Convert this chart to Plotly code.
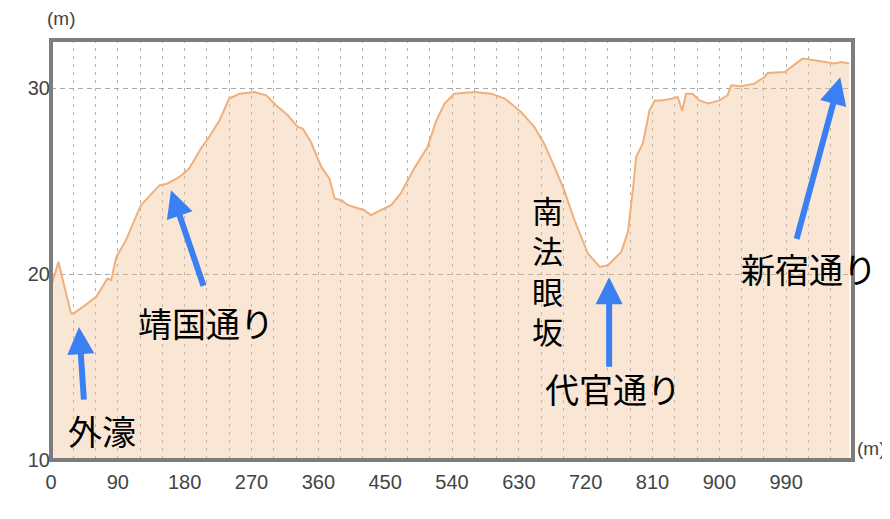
import plotly.graph_objects as go

# distance along route (m) and elevation (m)
dist = [0, 10, 27, 31, 43, 61, 76, 81, 88, 101, 121, 146, 157, 173, 186, 202, 213, 227, 240, 254,
        274, 290, 303, 319, 332, 339, 350, 364, 375, 382, 391, 400, 422, 431, 444, 458, 471, 489,
        507, 519, 530, 543, 570, 593, 611, 633, 651, 664, 678, 691, 705, 723, 739, 750, 768, 777,
        784, 788, 797, 806, 813, 822, 837, 844, 850, 855, 864, 873, 885, 900, 911, 916, 929, 947,
        961, 965, 988, 994, 1001, 1012, 1024, 1042, 1055, 1064, 1075]
elev = [19.3, 20.66, 17.89, 17.9, 18.24, 18.78, 19.77, 19.68, 20.93, 21.83, 23.71, 24.78, 24.88,
        25.23, 25.68, 26.76, 27.38, 28.28, 29.45, 29.71, 29.80, 29.62, 29.09, 28.55, 27.92, 27.83,
        27.11, 25.77, 25.14, 24.07, 23.98, 23.71, 23.44, 23.17, 23.44, 23.71, 24.34, 25.68, 26.84,
        28.28, 29.18, 29.71, 29.80, 29.71, 29.45, 28.73, 27.92, 27.03, 25.77, 24.52, 22.90, 21.11,
        20.39, 20.48, 21.2, 22.3, 24.69, 26.31, 27.03, 28.82, 29.35, 29.35, 29.45, 29.53, 28.78,
        29.71, 29.71, 29.35, 29.18, 29.35, 29.62, 30.16, 30.11, 30.25, 30.61, 30.82, 30.88, 31.06,
        31.24, 31.60, 31.54, 31.41, 31.33, 31.41, 31.33]

x_ticks = [0, 90, 180, 270, 360, 450, 540, 630, 720, 810, 900, 990]
y_ticks = [10, 20, 30]

# labels: (text, x, y, size) and arrows: (tip x, tip y, tail dx px, tail dy px)
labels = [("外濠", 68.7, 11.61, 34), ("靖国通り", 208.8, 17.42, 34),
          ("南<br>法<br>眼<br>坂", 669, 20.22, 31),
          ("代官通り", 757, 13.87, 34), ("新宿通り", 1021, 20.32, 34)]
arrows = [(37.7, 17.15, 5, 74), (161.6, 24.52, 33, 97), (751.6, 19.84, 0, 91), (1062.8, 30.59, -44, 163)]

fig = go.Figure()
fig.add_trace(go.Scatter(
    x=dist, y=elev, mode="lines", fill="tozeroy",
    line=dict(color="#efb07c", width=2),
    fillcolor="rgba(240,190,145,0.38)", hoverinfo="skip", showlegend=False))

tickfont = dict(family="Liberation Sans, Arial, sans-serif", size=20, color="#444")
fig.update_xaxes(range=[0, 1080], tickvals=x_ticks, ticktext=[str(v) for v in x_ticks],
                 showgrid=True, gridcolor="#b0b0b0", gridwidth=1, griddash="3px,5px",
                 minor=dict(dtick=30, tick0=0, showgrid=True, gridcolor="#b0b0b0", gridwidth=1,
                            griddash="3px,5px"),
                 zeroline=False, showline=False, ticks="", tickfont=tickfont, fixedrange=True,
                 automargin=False, ticklabelstandoff=8)
fig.update_yaxes(range=[10, 32.6], tickvals=y_ticks, ticktext=[str(v) for v in y_ticks],
                 showgrid=True, gridcolor="#a8a8a8", gridwidth=1, griddash="5px,4px",
                 zeroline=False, showline=False, ticks="", tickfont=tickfont, fixedrange=True,
                 automargin=False)

fig.add_shape(type="rect", xref="paper", yref="paper", x0=0, x1=1, y0=0, y1=1,
              line=dict(color="#7d7d7d", width=4), layer="above")

for t, x, y, s in labels:
    fig.add_annotation(x=x, y=y, text=t, showarrow=False,
                       font=dict(family="Noto Sans CJK JP", size=s, color="#000"),
                       xanchor="center", yanchor="middle")
for x, y, dx, dy in arrows:
    fig.add_annotation(x=x, y=y, ax=dx, ay=dy, text="", showarrow=True, arrowhead=2,
                       arrowwidth=6, arrowsize=0.9, arrowcolor="#3a80f2", standoff=0)

mfont = dict(family="Liberation Sans, Arial, sans-serif", size=19, color="#444")
fig.add_annotation(xref="paper", yref="paper", x=-0.008, y=1.0, yshift=22, text="(m)",
                   showarrow=False, font=mfont, xanchor="left", yanchor="middle")
fig.add_annotation(xref="paper", yref="paper", x=1.0, y=0.0, xshift=2, yshift=12, text="(m)",
                   showarrow=False, font=mfont, xanchor="left", yanchor="middle")

# page body has an 8px margin, so the figure is sized to fit inside the window
fig.update_layout(width=882, height=511, margin=dict(l=43, r=37, t=32, b=59),
                  paper_bgcolor="white", plot_bgcolor="white")
fig.write_html("out.html")
